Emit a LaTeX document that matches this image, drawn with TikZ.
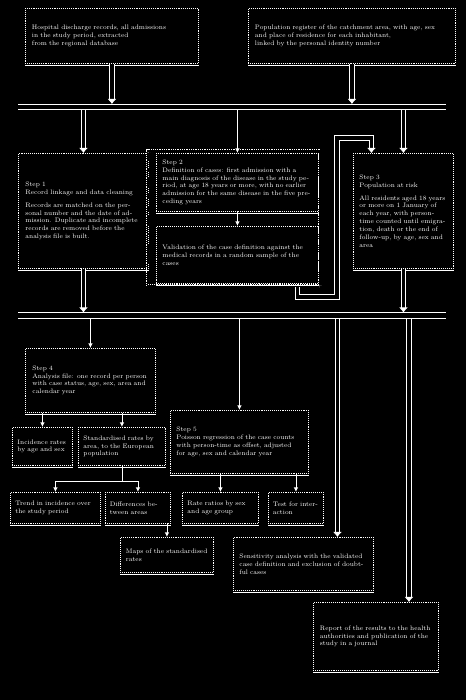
\documentclass[tikz,border=0pt]{standalone}
\usepackage{tikz}
\usetikzlibrary{arrows.meta,positioning,calc}
\newdimen\px \px=0.035cm
\tikzset{
  blk/.style={rectangle, draw=white, densely dotted, line width=.9pt, text=white,
              align=left, anchor=north west, inner sep=3pt,
              font=\fontsize{6.5}{7.8}\selectfont},
  grp/.style={rectangle, draw=white, densely dotted, line width=.8pt, anchor=north west,
              double=black, double distance=2.2pt},
  rule/.style={draw=white, line width=1pt},
  bus/.style={draw=white, line width=1pt, double=black, double distance=4.2pt},
  ar/.style={draw=white, line width=.9pt, -{Latex[length=4.5pt,width=4.5pt]}},
  dbl/.style={draw=white, line width=.9pt, double=black, double distance=3.5pt,
              -{Latex[length=5pt,width=9pt]}},
  ln/.style={draw=white, line width=.9pt},
}

\begin{document}
\begin{tikzpicture}[x=\px, y=-\px]
\useasboundingbox (0,0) rectangle (466,700);
\fill[black] (0,0) rectangle (466,700);

% ===================== sources ==========================================
\node[blk, minimum width=173\px, minimum height=55\px, text width=160\px] (a1) at (25,8)
  {Hospital discharge records, all admissions\\in the study period, extracted\\from the regional database};
\node[blk, minimum width=207\px, minimum height=55\px, text width=194\px] (b1) at (248,8)
  {Population register of the catchment area, with age, sex\\and place of residence for each inhabitant,\\linked by the personal identity number};

% ---- first bus ----
\coordinate (b1t) at (18,104);
\coordinate (b1b) at (18,110);
\coordinate (bus1l) at (18,107);
\coordinate (bus1r) at (446,107);
\draw[bus] (bus1l) -- (bus1r);

% ===================== steps 1 to 3 =====================================
\node[blk, minimum width=130\px, minimum height=115\px, text width=116\px] (c1) at (18,153)
  {Step 1\\Record linkage and data cleaning\\[5pt]
   Records are matched on the personal number and the date of admission.
   Duplicate and incomplete records are removed before the analysis file is built.};

\node[grp, minimum width=172\px, minimum height=135\px] (d0) at (148,151) {};
\node[blk, minimum width=162\px, minimum height=58\px, text width=150\px] (d1) at (156,153)
  {Step 2\\Definition of cases: first admission with a main diagnosis of the disease
   in the study period, at age 18 years or more, with no earlier admission for the
   same disease in the five preceding years};
\node[blk, minimum width=162\px, minimum height=57\px, text width=150\px] (d2) at (156,226)
  {Validation of the case definition against the medical records in a random
   sample of the cases};

\node[blk, minimum width=100\px, minimum height=115\px, text width=88\px] (e1) at (353,153)
  {Step 3\\Population at risk\\[5pt]
   All residents aged 18 years or more on 1 January of each year, with
   person-time counted until emigration, death or the end of follow-up,
   by age, sex and area};

% ---- second bus ----
\coordinate (b2t) at (18,312.5);
\coordinate (b2b) at (18,318.5);
\coordinate (bus2l) at (18,315.5);
\coordinate (bus2r) at (446,315.5);
\draw[bus] (bus2l) -- (bus2r);

% ===================== analysis =========================================
\node[blk, minimum width=130\px, minimum height=64\px, text width=116\px] (f1) at (25,348)
  {Step 4\\Analysis file: one record per person with case status, age, sex, area
   and calendar year};
\node[blk, minimum width=60\px, minimum height=38\px, text width=50\px] (g1) at (12,427)
  {Incidence rates by age and sex};
\node[blk, minimum width=87\px, minimum height=38\px, text width=77\px] (g2) at (78,427)
  {Standardised rates by area, to the European population};
\node[blk, minimum width=138\px, minimum height=63\px, text width=126\px] (h1) at (170,410)
  {Step 5\\Poisson regression of the case counts with person-time as offset,
   adjusted for age, sex and calendar year};

\node[blk, minimum width=90\px, minimum height=31\px, text width=80\px] (i1) at (10,492)
  {Trend in incidence over the study period};
\node[blk, minimum width=65\px, minimum height=31\px, text width=56\px] (i2) at (105,492)
  {Differences between areas};
\node[blk, minimum width=76\px, minimum height=31\px, text width=66\px] (i3) at (182,492)
  {Rate ratios by sex and age group};
\node[blk, minimum width=55\px, minimum height=31\px, text width=46\px] (i4) at (268,492)
  {Test for interaction};

\node[blk, minimum width=93\px, minimum height=35\px, text width=82\px] (j1) at (120,537)
  {Maps of the standardised rates};
\node[blk, minimum width=140\px, minimum height=53\px, text width=128\px] (k1) at (233,537)
  {Sensitivity analysis with the validated case definition and exclusion of
   doubtful cases};
\node[blk, minimum width=125\px, minimum height=68\px, text width=112\px] (l1) at (313,602)
  {Report of the results to the health authorities and publication of the study
   in a journal};

% solid rule under each box
\foreach \n in {a1,b1,c1,d1,d2,e1,f1,g1,g2,h1,i1,i2,i3,i4,j1,k1,l1}
  \draw[rule] ([yshift=-1.5pt]\n.south west) -- ([yshift=-1.5pt]\n.south east);

% ===================== connectors =======================================
\draw[dbl] (a1.south) -- (a1.south |- b1t);
\draw[dbl] (b1.south) -- (b1.south |- b1t);
\draw[dbl] (c1.north |- b1b) -- (c1.north);
\draw[ar] (d1.north |- b1b) -- (d1.north);
\draw[dbl] (e1.north |- b1b) -- (e1.north);
\draw[ar] (d1.south) -- (d2.north);

\coordinate (lp1) at (337,297);
\coordinate (lp2) at (337,138);
\draw[dbl] ([xshift=63\px]d0.south) |- (lp1) -- (lp2) -| ([xshift=-32\px]e1.north);

\draw[dbl] (c1.south) -- (c1.south |- b2t);
\draw[dbl] (e1.south) -- (e1.south |- b2t);

\draw[ar] (f1.north |- b2b) -- (f1.north);
\draw[ar] (h1.north |- b2b) -- (h1.north);
\draw[dbl] ([xshift=34\px]k1.north |- b2b) -- ([xshift=34\px]k1.north);
\draw[dbl] ([xshift=33\px]l1.north |- b2b) -- ([xshift=33\px]l1.north);

\draw[ar] (f1.south -| g1.north) -- (g1.north);
\draw[ar] (f1.south -| g2.north) -- (g2.north);

\coordinate (gj) at (0,481);
\draw[ln] (g2.south) -- (g2.south |- gj);
\draw[ln] (i1.north |- gj) -- (i2.north |- gj);
\draw[ar] (i1.north |- gj) -- (i1.north);
\draw[ar] (i2.north |- gj) -- (i2.north);

\draw[ar] (h1.south -| i3.north) -- (i3.north);
\draw[ar] (h1.south -| i4.north) -- (i4.north);

\draw[ar] (i2.south -| j1.north) -- (j1.north);

\end{tikzpicture}
\end{document}
